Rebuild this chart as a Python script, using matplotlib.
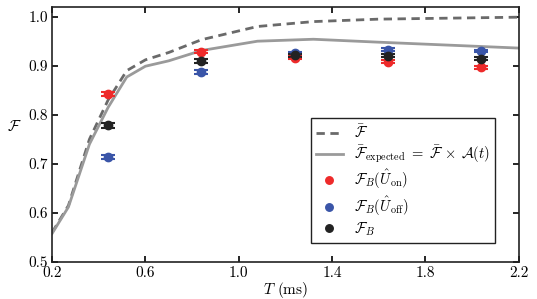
import matplotlib
matplotlib.use("Agg")
import matplotlib.pyplot as plt
from matplotlib.ticker import MultipleLocator, FixedLocator

plt.rcParams['font.family'] = ['cmr10', 'DejaVu Serif']
plt.rcParams['mathtext.fontset'] = 'cm'
plt.rcParams['axes.formatter.use_mathtext'] = True
plt.rcParams['font.size'] = 11

# fidelity curves
t_curve = [0.2, 0.27, 0.36, 0.44, 0.52, 0.6, 0.7, 0.84, 1.08, 1.32, 1.6, 2.2]
f_bar = [0.56, 0.615, 0.75, 0.83, 0.89, 0.912, 0.927, 0.953, 0.98, 0.99, 0.995, 0.999]
f_expected = [0.558, 0.612, 0.74, 0.815, 0.877, 0.899, 0.91, 0.931, 0.950, 0.954, 0.948, 0.936]

# measured points
t_meas = [0.44, 0.84, 1.24, 1.64, 2.04]
f_on = [0.843, 0.929, 0.916, 0.908, 0.897]
f_on_err = [0.004, 0.004, 0.003, 0.003, 0.003]
f_off = [0.713, 0.887, 0.926, 0.933, 0.930]
f_off_err = [0.004, 0.004, 0.003, 0.003, 0.003]
f_b = [0.779, 0.909, 0.921, 0.920, 0.914]
f_b_err = [0.005, 0.004, 0.003, 0.003, 0.003]

x_ticks = [0.2, 0.6, 1.0, 1.4, 1.8, 2.2]

fig = plt.figure(figsize=(5.37, 2.99), dpi=100)
ax = fig.add_axes([0.097, 0.124, 0.869, 0.853])

ax.plot(t_curve, f_bar, color='#6a6a6a', lw=2, ls='--', dashes=(3, 2),
        label=r'$\bar{\mathcal{F}}$')
ax.plot(t_curve, f_expected, color='#9a9a9a', lw=2,
        label=r'$\bar{\mathcal{F}}_{\rm expected}\ =\ \bar{\mathcal{F}}\,\times\,\mathcal{A}(t)$')

ax.errorbar(t_meas, f_on, yerr=f_on_err, fmt='o', color='#ee2a2a', ms=6,
            capsize=5, elinewidth=1.5, capthick=1.5, label=r'$\mathcal{F}_B(\hat{U}_{\rm on})$')
ax.errorbar(t_meas, f_off, yerr=f_off_err, fmt='o', color='#3a55a8', ms=6,
            capsize=5, elinewidth=1.5, capthick=1.5, label=r'$\mathcal{F}_B(\hat{U}_{\rm off})$')
ax.errorbar(t_meas, f_b, yerr=f_b_err, fmt='o', color='#222222', ms=6,
            capsize=5, elinewidth=1.5, capthick=1.5, label=r'$\mathcal{F}_B$')

ax.set_xlim(0.2, 2.2)
ax.set_ylim(0.5, 1.02)
ax.xaxis.set_major_locator(FixedLocator(x_ticks))
ax.yaxis.set_major_locator(MultipleLocator(0.1))
ax.xaxis.set_major_formatter(plt.FuncFormatter(lambda v, p: '%.1f' % v))
ax.yaxis.set_major_formatter(plt.FuncFormatter(lambda v, p: '%.1f' % v))
ax.tick_params(direction='in', top=True, right=True, length=4, width=1.2, pad=3)
for s in ax.spines.values():
    s.set_linewidth(1.2)
    s.set_color('#222222')

ax.set_xlabel(r'$T$ (ms)', labelpad=0)
ax.set_ylabel(r'$\mathcal{F}$', rotation=0, labelpad=10)

handles, labels = ax.get_legend_handles_labels()
hs = [handles[0], handles[1]] + [h[0] for h in handles[2:]]
leg = ax.legend(hs, labels, loc='lower right', bbox_to_anchor=(0.965, 0.045),
                fancybox=False, edgecolor='#222222', framealpha=1, fontsize=10.5,
                handlelength=1.8, borderpad=0.35, labelspacing=0.2, markerscale=0.9)
leg.get_frame().set_linewidth(1.0)

fig.savefig('out.png', dpi=100)
